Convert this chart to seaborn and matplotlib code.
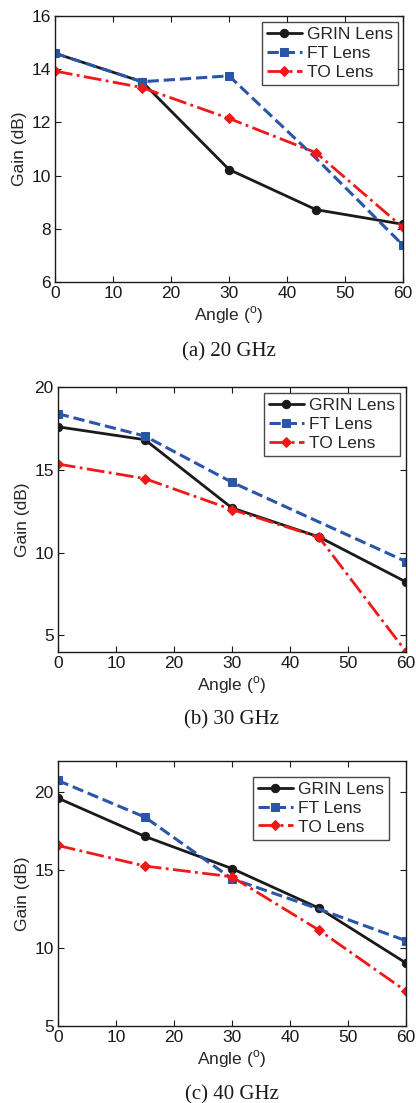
import matplotlib
matplotlib.use("Agg")
import matplotlib.pyplot as plt
import seaborn as sns

# angles (deg) shared by all panels
angles = [0, 15, 30, 45, 60]

# gain (dB) at 20 GHz
grin_20 = [14.6, 13.53, 10.23, 8.72, 8.17]
ft_20 = [14.6, 13.53, 13.75, 10.65, 7.38]
to_20 = [13.93, 13.31, 12.15, 10.86, 8.05]

# gain (dB) at 30 GHz
grin_30 = [17.6, 16.82, 12.7, 10.95, 8.23]
ft_30 = [18.39, 17.04, 14.25, 11.85, 9.46]
to_30 = [15.35, 14.47, 12.6, 10.93, 4.02]

# gain (dB) at 40 GHz
grin_40 = [19.62, 17.16, 15.1, 12.56, 9.04]
ft_40 = [20.75, 18.4, 14.45, 12.5, 10.47]
to_40 = [16.58, 15.26, 14.57, 11.15, 7.24]

captions = ["(a) 20 GHz", "(b) 30 GHz", "(c) 40 GHz"]
series_names = ["GRIN Lens", "FT Lens", "TO Lens"]

sns.set_style("ticks")
plt.rcParams['font.family'] = ['Liberation Sans', 'DejaVu Sans']
plt.rcParams['mathtext.fontset'] = 'custom'
plt.rcParams['mathtext.rm'] = 'Liberation Sans'
plt.rcParams['xtick.direction'] = 'in'
plt.rcParams['ytick.direction'] = 'in'

fig = plt.figure(figsize=(4.16, 11.03), dpi=100)

# axes boxes in figure fractions
boxes = [
    [0.132, 0.7443, 0.837, 0.2412],
    [0.139, 0.4089, 0.837, 0.2402],
    [0.139, 0.0698, 0.837, 0.2403],
]
ylims = [(6, 16), (4, 20), (5, 22)]
yticks = [[6, 8, 10, 12, 14, 16], [5, 10, 15, 20], [5, 10, 15, 20]]
legend_anchor = [(0.9567, 0.980), (0.9615, 0.6437), (0.935, 0.2956)]
caption_y = [0.681, 0.3472, 0.0073]

panels = [
    (grin_20, ft_20, to_20),
    (grin_30, ft_30, to_30),
    (grin_40, ft_40, to_40),
]

# FT curve has no marker drawn at 45 deg in the original
styles = [
    dict(color='#1a1a1a', marker='o', linestyle='-', lw=2.0, ms=6, every=None),
    dict(color='#2a55a8', marker='s', linestyle='--', lw=2.2, ms=6, every=[0, 1, 2, 4]),
    dict(color='#f01818', marker='D', linestyle='-.', lw=2.0, ms=5.5, every=None),
]

for i, (grin, ft, to) in enumerate(panels):
    ax = fig.add_axes(boxes[i])
    for vals, name, st in zip((grin, ft, to), series_names, styles):
        sns.lineplot(x=angles, y=vals, ax=ax, label=name,
                     color=st['color'], marker=st['marker'],
                     linestyle=st['linestyle'], linewidth=st['lw'],
                     markersize=st['ms'], markeredgecolor=st['color'],
                     markevery=st['every'])
    ax.set_xlim(0, 60)
    ax.set_ylim(*ylims[i])
    ax.set_xticks([0, 10, 20, 30, 40, 50, 60])
    ax.set_yticks(yticks[i])
    ax.tick_params(labelsize=12.5, top=True, right=True, length=4, width=0.8,
                   pad=3, colors='#1a1a1a')
    for s in ax.spines.values():
        s.set_linewidth(1.0)
        s.set_color('#1a1a1a')
    ax.set_xlabel("Angle ($^{\\rm o}$)", fontsize=12.5, labelpad=2)
    ax.set_ylabel("Gain (dB)", fontsize=12.5, labelpad=3)
    leg = ax.legend(loc='upper right', bbox_to_anchor=legend_anchor[i],
                    bbox_transform=fig.transFigure, fontsize=12.5,
                    frameon=True, fancybox=False, handlelength=2.0,
                    borderpad=0.3, labelspacing=0.2, handletextpad=0.3,
                    borderaxespad=0)
    leg.get_frame().set_edgecolor('#1a1a1a')
    leg.get_frame().set_linewidth(1.0)
    cx = boxes[i][0] + boxes[i][2] / 2
    fig.text(cx, caption_y[i], captions[i], ha='center', va='center',
             fontsize=15, family=['Liberation Serif', 'DejaVu Serif'],
             color='#1a1a1a')

fig.savefig("out.png", dpi=100)
